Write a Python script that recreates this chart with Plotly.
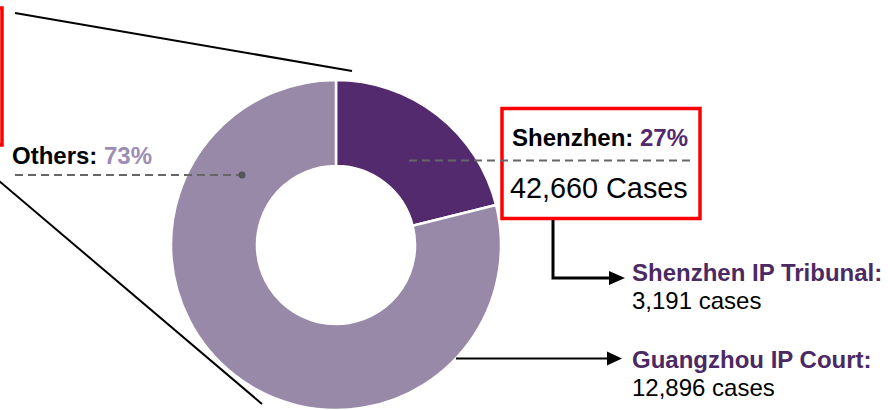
import plotly.graph_objects as go

W, H = 888, 410

# ---- data ----
regions = ["Shenzhen", "Others"]
label_pcts = ["27%", "73%"]                 # shares printed on the chart
slice_shares = [21.1, 78.9]                 # shares as drawn in the donut
shenzhen_cases = "42,660"
courts = ["Shenzhen IP Tribunal:", "Guangzhou IP Court:"]
court_cases = ["3,191", "12,896"]

DARK = "#532A6E"
LIGHT = "#9889A8"
LIGHT_TXT = "#9C8DB3"
COURT_TXT = "#4B2A63"
FONT = "Liberation Sans, Arial, sans-serif"


def px(x):
    return x / W


def py(y):
    return 1 - y / H


fig = go.Figure()

# donut: radius 165px centred at (336, 245)
fig.add_trace(go.Pie(
    labels=regions,
    values=slice_shares,
    hole=0.479,
    sort=False,
    direction="clockwise",
    rotation=0,
    marker=dict(colors=[DARK, LIGHT], line=dict(color="white", width=2.5)),
    textinfo="none",
    hoverinfo="label+percent",
    showlegend=False,
    domain=dict(x=[px(171), px(501)], y=[0, 330 / H]),
))

shapes = []
# black slanted lines
shapes.append(dict(type="line", xref="paper", yref="paper", layer="below",
                   x0=px(15), y0=py(13), x1=px(352), y1=py(71),
                   line=dict(color="black", width=2)))
shapes.append(dict(type="line", xref="paper", yref="paper", layer="below",
                   x0=px(-2), y0=py(180), x1=px(262), y1=py(404),
                   line=dict(color="black", width=2)))
# red boxes
shapes.append(dict(type="rect", xref="paper", yref="paper",
                   x0=px(-40), y0=py(8), x1=px(2), y1=py(145),
                   line=dict(color="#FF0000", width=3.5)))
shapes.append(dict(type="rect", xref="paper", yref="paper",
                   x0=px(502), y0=py(108.5), x1=px(700), y1=py(218.5),
                   line=dict(color="#FF0000", width=3.5), fillcolor="rgba(0,0,0,0)"))
# dashed leader lines
shapes.append(dict(type="line", xref="paper", yref="paper",
                   x0=px(15), y0=py(175), x1=px(242), y1=py(175),
                   line=dict(color="#666666", width=2, dash="8px,5px")))
shapes.append(dict(type="circle", xref="paper", yref="paper",
                   x0=px(238.5), y0=py(171.5), x1=px(245.5), y1=py(178.5),
                   fillcolor="#555555", line=dict(width=0)))
shapes.append(dict(type="line", xref="paper", yref="paper",
                   x0=px(409), y0=py(160.5), x1=px(692), y1=py(160.5),
                   line=dict(color="#666666", width=2, dash="8px,5px")))
# elbow connector to Shenzhen IP Tribunal
shapes.append(dict(type="path", xref="paper", yref="paper",
                   path=f"M {px(553)},{py(220)} L {px(553)},{py(278)} L {px(611)},{py(278)}",
                   line=dict(color="black", width=3)))
shapes.append(dict(type="path", xref="paper", yref="paper",
                   path=f"M {px(609)},{py(271)} L {px(625)},{py(278)} L {px(609)},{py(285)} Z",
                   fillcolor="black", line=dict(color="black", width=0)))
# straight connector to Guangzhou IP Court
shapes.append(dict(type="line", xref="paper", yref="paper",
                   x0=px(456), y0=py(358.5), x1=px(610), y1=py(358.5),
                   line=dict(color="black", width=2)))
shapes.append(dict(type="path", xref="paper", yref="paper",
                   path=f"M {px(607)},{py(351.5)} L {px(622)},{py(358.5)} L {px(607)},{py(365.5)} Z",
                   fillcolor="black", line=dict(color="black", width=0)))

annotations = []


def ann(x, y, text, size=24, color="black"):
    annotations.append(dict(x=px(x), y=py(y), xref="paper", yref="paper",
                            xanchor="left", yanchor="middle", showarrow=False,
                            text=text, borderpad=0, borderwidth=0,
                            font=dict(family=FONT, size=size, color=color)))


ann(12, 155, f"<b>{regions[1]}: <span style='color:{LIGHT_TXT}'>{label_pcts[1]}</span></b>")
ann(512, 137.5, f"<b>{regions[0]}: <span style='color:{DARK}'>{label_pcts[0]}</span></b>")
ann(510, 188.5, f"{shenzhen_cases} Cases", size=28.8)
ann(632, 272, f"<b>{courts[0]}</b>", color=COURT_TXT)
ann(632, 300, f"{court_cases[0]} cases")
ann(632, 359, f"<b>{courts[1]}</b>", color=COURT_TXT)
ann(632, 387, f"{court_cases[1]} cases")

fig.update_layout(
    width=W, height=H,
    margin=dict(l=0, r=0, t=0, b=0),
    paper_bgcolor="white", plot_bgcolor="white",
    shapes=shapes, annotations=annotations,
    font=dict(family=FONT),
)

fig.write_html(
    "out.html",
    config={"displayModeBar": False},
    post_script="document.body.style.margin='0';document.body.style.overflow='hidden';",
)
